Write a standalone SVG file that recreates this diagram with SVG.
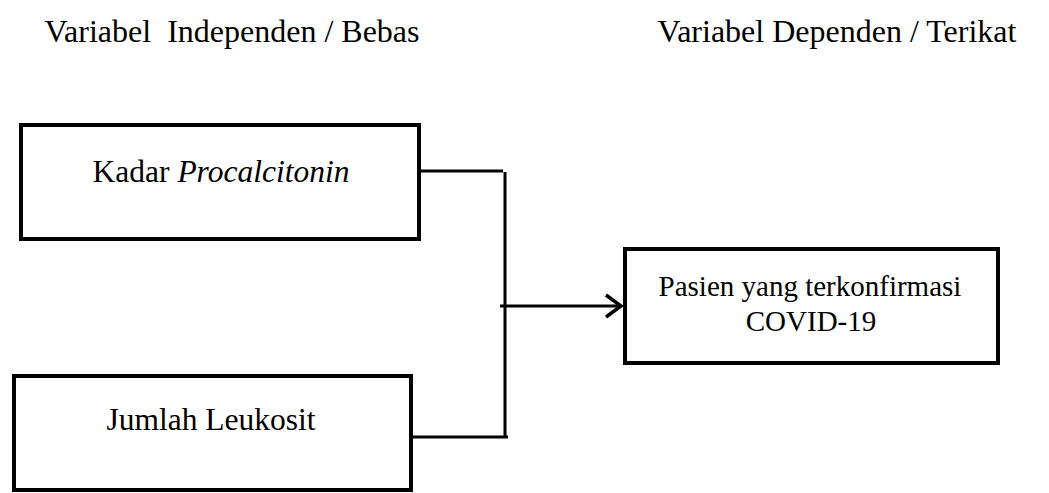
<svg xmlns="http://www.w3.org/2000/svg" width="1049" height="493" viewBox="0 0 1049 493">
<style>
text{font-family:"Liberation Serif","Times New Roman",serif;font-size:31.5px;fill:#000}
.hd{font-size:32px}
.sm{font-size:29px}
.box{fill:#fff;stroke:#000;stroke-width:4}
.ln{fill:none;stroke:#000;stroke-width:3}
</style>
<defs>
<marker id="arr" markerWidth="20" markerHeight="26" refX="17" refY="13" orient="auto" markerUnits="userSpaceOnUse">
<path d="M2,2 L17,13 L2,24" fill="none" stroke="#000" stroke-width="3.5"/>
</marker>
</defs>
<rect width="1049" height="493" fill="#fff"/>
<g id="headers">
<text class="hd" x="232" y="42" text-anchor="middle" xml:space="preserve">Variabel  Independen / Bebas</text>
<text class="hd" x="837" y="42" text-anchor="middle">Variabel Dependen / Terikat</text>
</g>
<g id="node-procalcitonin">
<rect class="box" x="21" y="125" width="398" height="114"/>
<text x="221" y="182" text-anchor="middle">Kadar <tspan font-style="italic">Procalcitonin</tspan></text>
</g>
<g id="node-leukosit">
<rect class="box" x="14" y="376" width="397" height="114"/>
<text x="211" y="430" text-anchor="middle">Jumlah Leukosit</text>
</g>
<g id="node-covid">
<rect class="box" x="625" y="249" width="373" height="114"/>
<text class="sm" x="810" y="296" text-anchor="middle">Pasien yang terkonfirmasi</text>
<text class="sm" x="811" y="331" text-anchor="middle">COVID-19</text>
</g>
<g id="connectors">
<line class="ln" x1="421" y1="171" x2="503" y2="171"/>
<line class="ln" x1="413" y1="437" x2="508" y2="437"/>
<line class="ln" x1="505" y1="172" x2="505" y2="438"/>
<line class="ln" x1="500" y1="306" x2="621" y2="306" marker-end="url(#arr)"/>
</g>
</svg>
